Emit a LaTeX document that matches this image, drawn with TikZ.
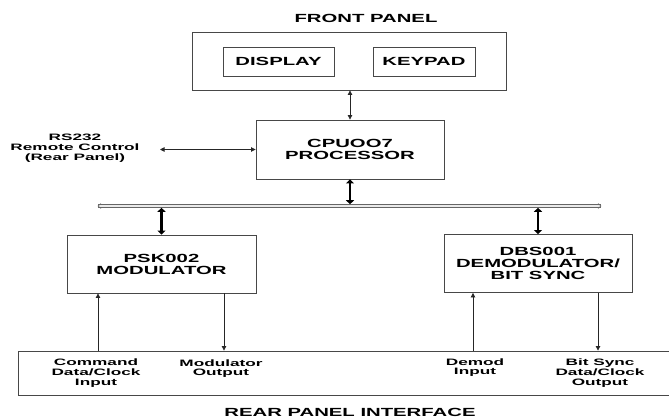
\documentclass[tikz,border=0pt]{standalone}
\usepackage{fontspec}
\newfontfamily\labfont{Liberation Sans}[FakeStretch=1.85]
\newfontfamily\headfont{Liberation Sans}[FakeStretch=1.72]
\usetikzlibrary{arrows.meta}
\tikzset{
  box/.style={draw=black!72, line width=0.9pt, inner sep=0pt, align=center,
    font=\headfont\bfseries\fontsize{11.8}{12}\selectfont},
  head/.style={inner sep=0pt, font=\headfont\bfseries\fontsize{11.8}{12}\selectfont},
  lbl/.style={inner sep=0pt, align=center, font=\labfont\bfseries\fontsize{9.3}{9.8}\selectfont},
  thinarrow/.style={line width=0.8pt, black!85, -{Triangle[length=4.5pt,width=4.5pt]}},
  thinboth/.style={line width=0.8pt, black!85, {Triangle[length=4.5pt,width=4.5pt]}-{Triangle[length=4.5pt,width=4.5pt]}},
  thickboth/.style={line width=2.6pt, black, {Triangle[length=4pt,width=8pt]}-{Triangle[length=4pt,width=8pt]}},
  busline/.style={draw=black!60, line width=0.6pt, double=black!8, double distance=2pt}
}
\begin{document}
\begin{tikzpicture}[x=1pt,y=-1pt]
\useasboundingbox (0,0) rectangle (669,420);
% front panel
\node[head] (fptitle) at (366,18) {FRONT PANEL};
\node[box, minimum width=314pt, minimum height=58pt] (fp) at (349,61) {};
\node[box, minimum width=111pt, minimum height=29pt] (disp) at (278.5,61.5) {DISPLAY};
\node[box, minimum width=102pt, minimum height=29pt] (key) at (424,61.5) {KEYPAD};
% cpu
\node[box, minimum width=188pt, minimum height=59pt] (cpu) at (350,149.5) {CPUOO7\\PROCESSOR};
\draw[thinboth] (fp.south -| cpu.north) -- (cpu.north);
% RS232
\node[lbl] (rs) at (75,148) {RS232\\Remote Control\\(Rear Panel)};
\coordinate (rsend) at (160,149.5);
\draw[thinboth] (rsend) -- (cpu.west);
% bus
\coordinate (busL) at (98,206);
\coordinate (busR) at (601,206);
\draw[busline] (busL) -- (busR);
\draw[black!60, line width=0.6pt] (101,203.5) -- (98,206) -- (101,208.5);
\draw[black!60, line width=0.6pt] (598,203.5) -- (601,206) -- (598,208.5);
\coordinate (bcpu) at (350,204.2);
\draw[thickboth] (cpu.south) -- (bcpu);
% modulator / demodulator
\node[box, minimum width=189pt, minimum height=58pt] (psk) at (161.5,264) {PSK002\\MODULATOR};
\node[box, minimum width=188pt, minimum height=58pt] (dbs) at (538,263.5) {DBS001\\DEMODULATOR/\\BIT SYNC};
\coordinate (bpsk) at (161.5,207.8);
\coordinate (bdbs) at (538,207.8);
\draw[thickboth] (bpsk) -- (psk.north);
\draw[thickboth] (bdbs) -- (dbs.north);
% rear panel
\node[box, minimum width=672pt, minimum height=44pt] (rear) at (354,373) {};
\coordinate (xcmd) at (98,0);
\coordinate (xmod) at (224,0);
\coordinate (xdem) at (473,0);
\coordinate (xbit) at (598,0);
\draw[thinarrow] (rear.north -| xcmd) -- (psk.south -| xcmd);
\draw[thinarrow] (psk.south -| xmod) -- (rear.north -| xmod);
\draw[thinarrow] (rear.north -| xdem) -- (dbs.south -| xdem);
\draw[thinarrow] (dbs.south -| xbit) -- (rear.north -| xbit);
\node[lbl] (cmd) at (96,373) {Command\\Data/Clock\\Input};
\node[lbl] (modout) at (221,368.5) {Modulator\\Output};
\node[lbl] (demin) at (475,367.5) {Demod\\Input};
\node[lbl] (bitout) at (600,373) {Bit Sync\\Data/Clock\\Output};
\node[head] (reartitle) at (350,412) {REAR PANEL INTERFACE};
\end{tikzpicture}
\end{document}
